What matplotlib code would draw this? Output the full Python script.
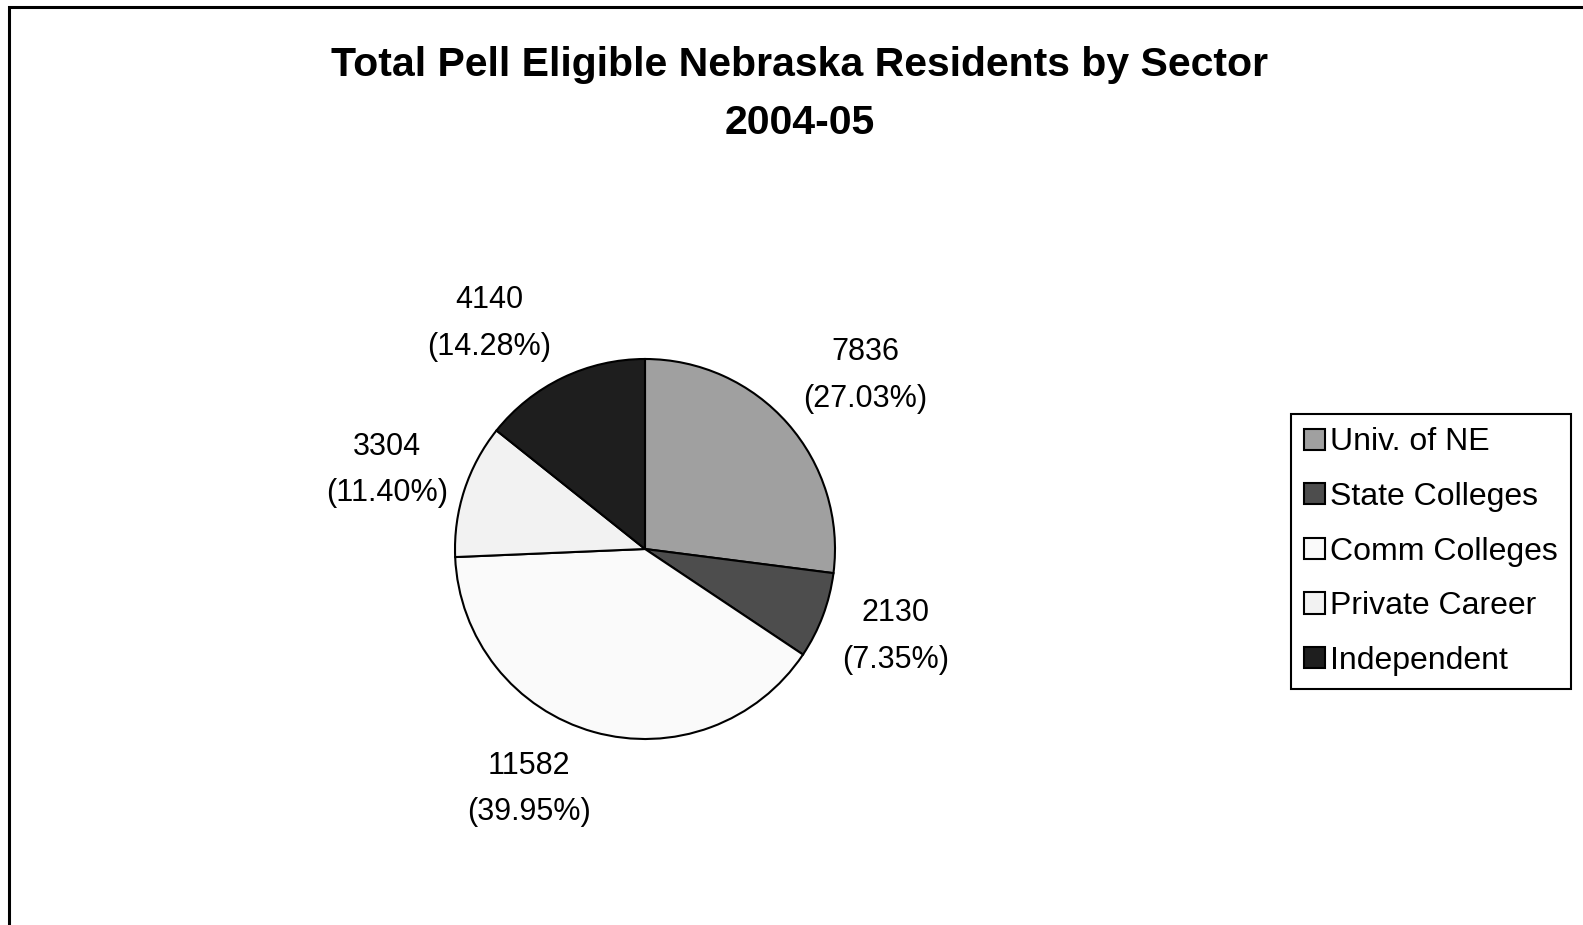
import numpy as np
import matplotlib
matplotlib.use("Agg")
import matplotlib.pyplot as plt
from matplotlib.patches import Rectangle

plt.rcParams['font.family'] = ['Liberation Sans', 'DejaVu Sans']

# data
sectors = ['Univ. of NE', 'State Colleges', 'Comm Colleges', 'Private Career', 'Independent']
counts = [7836, 2130, 11582, 3304, 4140]
colors = ['#a0a0a0', '#4d4d4d', '#fafafa', '#f2f2f2', '#1e1e1e']
title = 'Total Pell Eligible Nebraska Residents by Sector\n2004-05'

W, H = 1583, 925
fig = plt.figure(figsize=(W / 100, H / 100), dpi=100)

# outer chart border (right and bottom edges fall outside the picture)
fig.patches.append(Rectangle((9 / W, -0.1), 1.2, 1.1 - 7 / H, transform=fig.transFigure,
                             fill=False, edgecolor='black', linewidth=2.2))

cx, cy, r = 645, 549, 190
ax = fig.add_axes([(cx - r) / W, (H - cy - r) / H, 2 * r / W, 2 * r / H])

total = sum(counts)
wedges, _ = ax.pie(counts, colors=colors, startangle=90, counterclock=False,
                   wedgeprops=dict(edgecolor='black', linewidth=1.5))
ax.set_xlim(-1, 1)
ax.set_ylim(-1, 1)
ax.set_aspect('equal')

# label placement (radial distance, angle shift in degrees) - excel "best fit"
dist = [1.49, 1.39, 1.385, 1.425, 1.46]
shift = [-2.5, 2.1, -10.6, 0.2, 8.4]
for w, c, d, s in zip(wedges, counts, dist, shift):
    ang = np.deg2rad((w.theta1 + w.theta2) / 2 + s)
    ax.text(d * np.cos(ang), d * np.sin(ang) - 0.022, f'{c}\n({c / total * 100:.2f}%)',
            ha='center', va='center', fontsize=22, linespacing=1.72)

fig.text(0.505, 1 - 94 / H, title, ha='center', va='center', fontsize=29.5,
         fontweight='bold', linespacing=1.68)

leg = fig.legend(wedges, sectors, loc='upper left',
                 bbox_to_anchor=(1291 / W, 1 - 414 / H), fontsize=23,
                 frameon=True, fancybox=False, framealpha=1, edgecolor='black',
                 handlelength=0.65, handleheight=0.65, handletextpad=0.15,
                 labelspacing=0.77, borderpad=0.42, borderaxespad=0)
leg.get_frame().set_linewidth(1.5)

fig.savefig('out.png', dpi=100)
